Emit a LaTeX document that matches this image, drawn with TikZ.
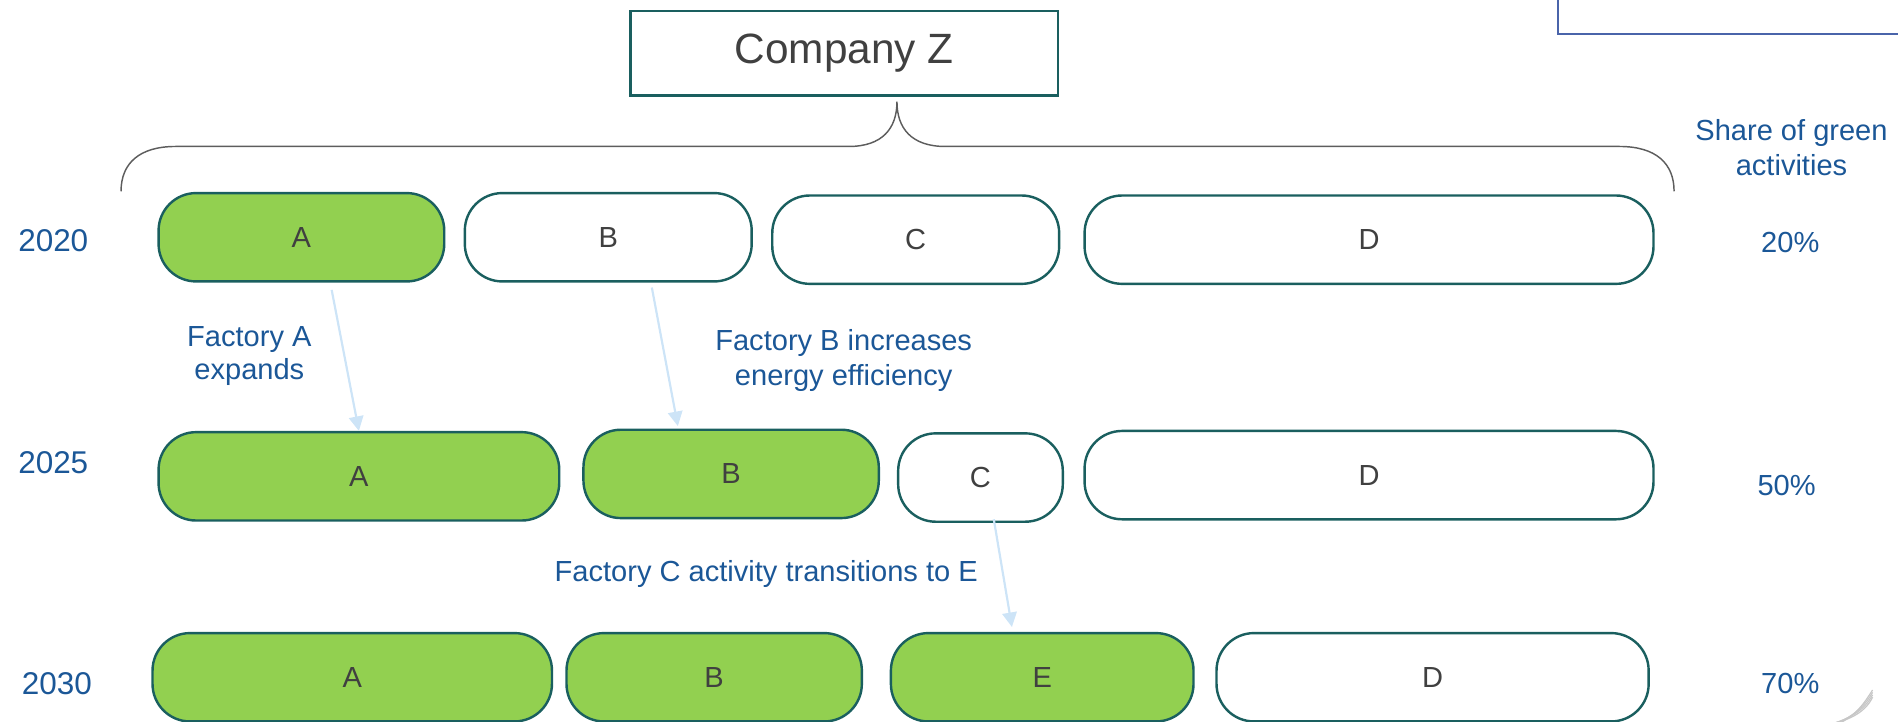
\documentclass[tikz,border=0pt]{standalone}
\usepackage{fontspec}
\setmainfont{Liberation Sans}
\usetikzlibrary{positioning, arrows.meta}
\definecolor{leaf}{HTML}{92D050}
\definecolor{rim}{HTML}{1A5F5F}
\definecolor{ink}{HTML}{404040}
\definecolor{navy}{HTML}{1B5797}
\definecolor{sky}{HTML}{CDE4F7}
\definecolor{frameblue}{HTML}{4A64AA}

\begin{document}
\begin{tikzpicture}[x=0.5pt, y=-0.5pt,
  unit/.style={draw=rim, line width=1pt, rounded corners=15.5pt, minimum height=36.5pt,
    inner sep=0pt, text=ink, font=\fontsize{12}{14}\selectfont},
  greenunit/.style={unit, fill=leaf},
  whiteunit/.style={unit, fill=white},
  year/.style={text=navy, font=\fontsize{13}{15}\selectfont},
  note/.style={text=navy, align=center, font=\fontsize{12}{14.5}\selectfont},
  flow/.style={draw=sky, line width=0.9pt, -{Triangle[width=6pt,length=6pt,fill=sky]}},
  brace/.style={draw=ink!85, line width=0.6pt}]
  \useasboundingbox (0,0) rectangle (1568,596);

  % company and its brace
  \node[draw=rim, line width=1pt, minimum width=176.5pt, minimum height=35pt, inner sep=0pt,
    text=ink, font=\fontsize{17.5}{20}\selectfont] (Z) at (697.5,44) {Company Z};
  \coordinate (tip) at (741,84);
  \draw[brace] (100,158) .. controls (100,135) and (115,121) .. (145,121) -- (701,121)
    .. controls (729,121) and (741,106) .. (tip)
    .. controls (741,106) and (753,121) .. (781,121) -- (1338,121)
    .. controls (1368,121) and (1383,135) .. (1383,158);
  \draw[frameblue, line width=0.7pt] (1287,-5) -- (1287,28) -- (1575,28);

  % 2020
  \node[greenunit, minimum width=118pt] (A20) at (249,196) {A};
  \node[whiteunit, minimum width=118.5pt, right=7.5pt of A20] (B20) {B};
  \node[whiteunit, minimum width=118.5pt, right=7.5pt of B20, yshift=-1pt] (C20) {C};
  \node[whiteunit, minimum width=235pt, right=9.5pt of C20] (D20) {D};

  % 2025
  \node[greenunit, minimum width=165.5pt] (A25) at (296.5,393.5) {A};
  \node[greenunit, minimum width=122pt, right=9pt of A25, yshift=1pt] (B25) {B};
  \node[whiteunit, minimum width=68pt, right=7pt of B25, yshift=-1.5pt] (C25) {C};
  \node[whiteunit, minimum width=235pt, right=8pt of C25, yshift=1pt] (D25) {D};

  % 2030
  \node[greenunit, minimum width=165pt] (A30) at (291,559.5) {A};
  \node[greenunit, minimum width=122pt, right=5pt of A30] (B30) {B};
  \node[greenunit, minimum width=125pt, right=11pt of B30] (E30) {E};
  \node[whiteunit, minimum width=178.5pt, right=8.5pt of E30] (D30) {D};

  % years and shares
  \node[year] (y20) at (44,199) {2020};
  \node[year] (y25) at (44,382) {2025};
  \node[year] (y30) at (47,565) {2030};
  \node[note] (share) at (1480,122) {Share of green\\activities};
  \node[note] (p20) at (1479,200) {20\%};
  \node[note] (p25) at (1476,401) {50\%};
  \node[note] (p30) at (1479,565) {70\%};

  % changes
  \node[note, font=\fontsize{12}{13.5}\selectfont] (nA) at (206,294) {Factory A\\expands};
  \node[note] (nB) at (697,298) {Factory B increases\\energy efficiency};
  \node[note] (nC) at (633,474) {Factory C activity transitions to E};
  \draw[flow] ([shift={(12.5pt,-3pt)}]A20.south) -- (A25.north);
  \draw[flow] ([shift={(18pt,-2pt)}]B20.south) -- ([shift={(-22pt,1pt)}]B25.north);
  \draw[flow] ([shift={(5.5pt,1.5pt)}]C25.south) -- ([shift={(-12.5pt,2pt)}]E30.north);

  % corner lines
  \foreach \k in {0,...,3}
    \draw[black!22, line width=0.5pt] (1500+5*\k,600) .. controls (1525+3*\k,597-2*\k)
      and (1540,590-3*\k) .. (1547,576-2*\k);
\end{tikzpicture}
\end{document}
